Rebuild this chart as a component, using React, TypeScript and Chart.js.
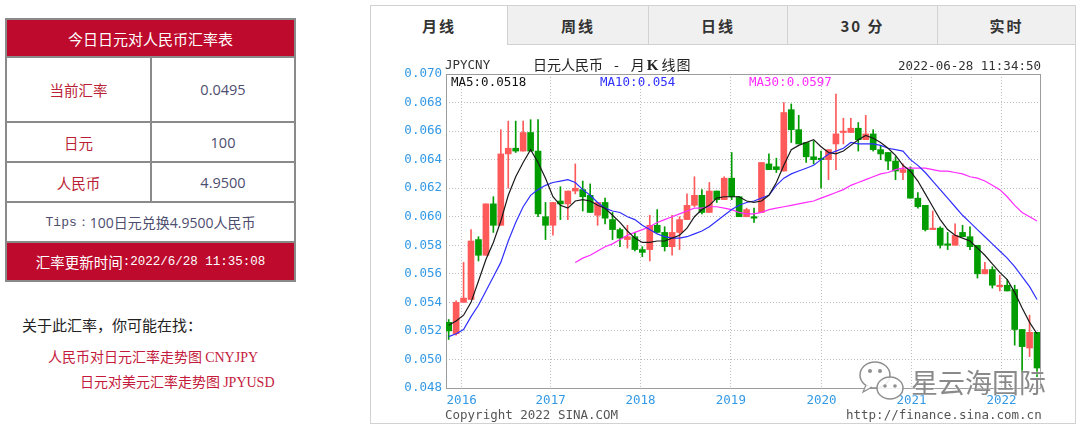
import React, { useEffect, useRef } from "react";
import { Chart, registerables } from "chart.js";

Chart.register(...registerables);

// Monthly candles, Nov 2015 .. Jun 2022 (index 0..79)
const opens = [
  0.0526, 0.0518, 0.0540, 0.0542, 0.0584, 0.0573, 0.0609, 0.0594, 0.0644, 0.0648,
  0.0646, 0.0659, 0.0646, 0.0600, 0.0594, 0.0611, 0.0609, 0.0618, 0.0619, 0.0615,
  0.0601, 0.0610, 0.0598, 0.0591, 0.0584, 0.0586, 0.0577, 0.0577, 0.0594, 0.0589,
  0.0579, 0.0589, 0.0598, 0.0608, 0.0615, 0.0603, 0.0618, 0.0612, 0.0627, 0.0614,
  0.0600, 0.0600, 0.0603, 0.0637, 0.0635, 0.0632, 0.0675, 0.0661, 0.0652, 0.0642,
  0.0641, 0.0640, 0.0651, 0.0659, 0.0659, 0.0662, 0.0654, 0.0658, 0.0647, 0.0645,
  0.0639, 0.0631, 0.0633, 0.0613, 0.0608, 0.0591, 0.0592, 0.0581, 0.0580, 0.0589,
  0.0586, 0.0580, 0.0560, 0.0563, 0.0551, 0.0552, 0.0549, 0.0521, 0.0508, 0.0519,
];
const highs = [
  0.0528, 0.0541, 0.0568, 0.0591, 0.0586, 0.0609, 0.0614, 0.0661, 0.0667, 0.0667,
  0.0667, 0.0668, 0.0668, 0.0610, 0.0610, 0.0621, 0.0618, 0.0637, 0.0625, 0.0623,
  0.0610, 0.0613, 0.0603, 0.0592, 0.0594, 0.0589, 0.0579, 0.0601, 0.0605, 0.0593,
  0.0601, 0.0600, 0.0616, 0.0628, 0.0619, 0.0624, 0.0618, 0.0628, 0.0645, 0.0614,
  0.0606, 0.0606, 0.0638, 0.0644, 0.0641, 0.0680, 0.0679, 0.0671, 0.0652, 0.0653,
  0.0646, 0.0647, 0.0686, 0.0669, 0.0669, 0.0666, 0.0671, 0.0661, 0.0650, 0.0645,
  0.0642, 0.0637, 0.0635, 0.0617, 0.0608, 0.0604, 0.0593, 0.0589, 0.0595, 0.0594,
  0.0593, 0.0580, 0.0568, 0.0565, 0.0559, 0.0556, 0.0552, 0.0521, 0.0531, 0.0519,
];
const lows = [
  0.0514, 0.0517, 0.0540, 0.0542, 0.0569, 0.0573, 0.0589, 0.0594, 0.0620, 0.0645,
  0.0646, 0.0646, 0.0600, 0.0584, 0.0587, 0.0598, 0.0598, 0.0616, 0.0604, 0.0603,
  0.0594, 0.0595, 0.0584, 0.0579, 0.0578, 0.0576, 0.0572, 0.0569, 0.0589, 0.0576,
  0.0573, 0.0577, 0.0598, 0.0607, 0.0602, 0.0603, 0.0610, 0.0612, 0.0612, 0.0600,
  0.0600, 0.0596, 0.0603, 0.0633, 0.0631, 0.0632, 0.0652, 0.0651, 0.0638, 0.0637,
  0.0620, 0.0626, 0.0633, 0.0651, 0.0659, 0.0646, 0.0654, 0.0646, 0.0640, 0.0633,
  0.0626, 0.0626, 0.0613, 0.0606, 0.0590, 0.0591, 0.0578, 0.0577, 0.0580, 0.0586,
  0.0577, 0.0557, 0.0560, 0.0550, 0.0548, 0.0548, 0.0510, 0.0491, 0.0502, 0.0488,
];
const closes = [
  0.0520, 0.0540, 0.0543, 0.0583, 0.0573, 0.0609, 0.0594, 0.0644, 0.0648, 0.0646,
  0.0659, 0.0646, 0.0602, 0.0594, 0.0610, 0.0609, 0.0618, 0.0620, 0.0614, 0.0603,
  0.0610, 0.0599, 0.0591, 0.0585, 0.0586, 0.0577, 0.0575, 0.0594, 0.0589, 0.0579,
  0.0589, 0.0598, 0.0608, 0.0615, 0.0603, 0.0618, 0.0612, 0.0627, 0.0614, 0.0600,
  0.0605, 0.0599, 0.0638, 0.0633, 0.0633, 0.0673, 0.0661, 0.0651, 0.0642, 0.0640,
  0.0640, 0.0647, 0.0658, 0.0660, 0.0662, 0.0654, 0.0658, 0.0647, 0.0644, 0.0639,
  0.0632, 0.0633, 0.0613, 0.0607, 0.0591, 0.0592, 0.0580, 0.0580, 0.0587, 0.0586,
  0.0579, 0.0560, 0.0563, 0.0552, 0.0552, 0.0548, 0.0521, 0.0509, 0.0519, 0.0494,
];

const ma5 = [
  0.0524, 0.0527, 0.0531, 0.0540, 0.0555, 0.0570, 0.0582, 0.0597, 0.0615, 0.0628,
  0.0638, 0.0647, 0.0638, 0.0627, 0.0614, 0.0608, 0.0606, 0.0611, 0.0612, 0.0611,
  0.0608, 0.0606, 0.0601, 0.0596, 0.0590, 0.0585, 0.0582, 0.0582, 0.0583, 0.0583,
  0.0585, 0.0587, 0.0592, 0.0600, 0.0605, 0.0608, 0.0613, 0.0614, 0.0614, 0.0614,
  0.0611, 0.0610, 0.0611, 0.0615, 0.0624, 0.0636, 0.0647, 0.0650, 0.0652, 0.0654,
  0.0649, 0.0645, 0.0644, 0.0646, 0.0650, 0.0654, 0.0657, 0.0655, 0.0652, 0.0648,
  0.0643, 0.0636, 0.0632, 0.0625, 0.0616, 0.0607, 0.0598, 0.0591, 0.0587, 0.0585,
  0.0583, 0.0578, 0.0573, 0.0567, 0.0561, 0.0556, 0.0547, 0.0536, 0.0526, 0.0518,
];
const ma10 = [
  0.0516, 0.0518, 0.0521, 0.0530, 0.0538, 0.0548, 0.0558, 0.0568, 0.0583, 0.0596,
  0.0607, 0.0615, 0.0619, 0.0622, 0.0624, 0.0625, 0.0626, 0.0624, 0.0619, 0.0615,
  0.0610, 0.0606, 0.0604, 0.0603, 0.0600, 0.0598, 0.0594, 0.0591, 0.0588, 0.0586,
  0.0585, 0.0585, 0.0586, 0.0588, 0.0590, 0.0593, 0.0597, 0.0601, 0.0605, 0.0608,
  0.0610, 0.0611, 0.0613, 0.0615, 0.0622, 0.0627, 0.0630, 0.0632, 0.0634, 0.0636,
  0.0640, 0.0644, 0.0646, 0.0648, 0.0652, 0.0651, 0.0651, 0.0651, 0.0650, 0.0648,
  0.0647, 0.0646, 0.0640, 0.0636, 0.0631, 0.0625, 0.0619, 0.0613, 0.0607, 0.0601,
  0.0596, 0.0591, 0.0586, 0.0581, 0.0576, 0.0571, 0.0565, 0.0558, 0.0551, 0.0542,
];
const ma30 = [
  null, null, null, null, null, null, null, null, null, null,
  null, null, null, null, null, null, null, 0.0568, 0.0571, 0.0573,
  0.0576, 0.0579, 0.0581, 0.0584, 0.0587, 0.0589, 0.0591, 0.0593, 0.0596, 0.0598,
  0.0600, 0.0602, 0.0604, 0.0606, 0.0606, 0.0607, 0.0607, 0.0606, 0.0605, 0.0603,
  0.0602, 0.0602, 0.0603, 0.0605, 0.0606, 0.0607, 0.0608, 0.0609, 0.0610, 0.0611,
  0.0613, 0.0615, 0.0617, 0.0619, 0.0622, 0.0624, 0.0626, 0.0628, 0.0630, 0.0631,
  0.0633, 0.0634, 0.0634, 0.0634, 0.0634, 0.0633, 0.0632, 0.0632, 0.0631, 0.0630,
  0.0628, 0.0627, 0.0625, 0.0622, 0.0619, 0.0614, 0.0608, 0.0603, 0.0600, 0.0597,
];

const yTicks = [0.048, 0.05, 0.052, 0.054, 0.056, 0.058, 0.06, 0.062, 0.064, 0.066, 0.068, 0.07];
const yearLabels = ["2016", "2017", "2018", "2019", "2020", "2021", "2022"];
// candle-index value where each year's grid line falls
const yearTickIndex = [1.74, 13.69, 25.77, 37.89, 50.07, 62.15, 74.23];

const RED = "#ff5a5a";
const GREEN = "#009c00";
const MONO = '"DejaVu Sans Mono", "Liberation Mono", monospace';
const CJK = '"Noto Sans CJK SC", "Noto Sans", sans-serif';

const framePlugin = {
  id: "frame",
  beforeDatasetsDraw(chart: any) {
    const { ctx, chartArea: a } = chart;
    ctx.save();
    ctx.strokeStyle = "#9c9c9c";
    ctx.lineWidth = 1;
    ctx.setLineDash([]);
    ctx.strokeRect(
      Math.round(a.left) + 0.5,
      Math.round(a.top) + 0.5,
      Math.round(a.right - a.left),
      Math.round(a.bottom - a.top)
    );
    ctx.restore();
  },
};

function KChart() {
  const ref = useRef<HTMLCanvasElement>(null);
  useEffect(() => {
    const idx = closes.map((_, i) => i);
    const colors = idx.map((i) => (closes[i] >= opens[i] ? RED : GREEN));
    const bodyData = idx.map((i) => ({ x: i, y: [opens[i], closes[i]] }));
    const wickData = idx.map((i) => ({ x: i, y: [lows[i], highs[i]] }));
    const toLine = (arr: (number | null)[]) =>
      arr.map((v, i) => ({ x: i, y: v })).filter((p) => p.y !== null);
    const gridColor = "#bdbdbd";
    const chart = new Chart(ref.current as HTMLCanvasElement, {
      type: "bar",
      data: {
        datasets: [
          {
            type: "bar",
            data: wickData as any,
            backgroundColor: colors,
            barThickness: 1,
            grouped: false,
            order: 4,
          } as any,
          {
            type: "bar",
            data: bodyData as any,
            backgroundColor: colors,
            barThickness: 6,
            minBarLength: 1,
            grouped: false,
            order: 3,
          } as any,
          {
            type: "line",
            data: toLine(ma30) as any,
            borderColor: "#ff2bff",
            borderWidth: 1.2,
            pointRadius: 0,
            tension: 0,
            order: 2,
          },
          {
            type: "line",
            data: toLine(ma10) as any,
            borderColor: "#2f2fff",
            borderWidth: 1.2,
            pointRadius: 0,
            tension: 0,
            order: 1,
          },
          {
            type: "line",
            data: toLine(ma5) as any,
            borderColor: "#1a1a1a",
            borderWidth: 1.2,
            pointRadius: 0,
            tension: 0,
            order: 0,
          },
        ],
      },
      options: {
        responsive: false,
        animation: false,
        devicePixelRatio: 1,
        layout: { padding: { left: 0, right: 36, top: 28, bottom: 0 } },
        plugins: { legend: { display: false }, tooltip: { enabled: false } },
        scales: {
          x: {
            type: "linear",
            min: -0.36,
            max: 79.4,
            offset: false,
            afterBuildTicks: (s: any) => {
              s.ticks = yearTickIndex.map((v) => ({ value: v }));
            },
            afterFit: (s: any) => {
              s.height = 36;
            },
            grid: { color: gridColor, drawTicks: false, offset: false, lineWidth: 1 },
            border: { display: false, dash: [1, 2] },
            ticks: {
              color: "#3399e6",
              font: { family: MONO, size: 12.5 },
              padding: 5,
              autoSkip: false,
              maxRotation: 0,
              callback: (_v: any, i: number) => yearLabels[i],
            },
          },
          y: {
            type: "linear",
            min: 0.048,
            max: 0.07,
            afterBuildTicks: (s: any) => {
              s.ticks = yTicks.map((v) => ({ value: v }));
            },
            afterFit: (s: any) => {
              s.width = 76;
            },
            grid: { color: gridColor, drawTicks: false, lineWidth: 1 },
            border: { display: false, dash: [1, 2] },
            ticks: {
              color: "#3399e6",
              font: { family: MONO, size: 12.5 },
              padding: 4,
              callback: (v: any) => Number(v).toFixed(3),
            },
          },
        },
      } as any,
      plugins: [framePlugin],
    });
    return () => chart.destroy();
  }, []);
  return (
    <canvas
      ref={ref}
      width={706}
      height={378}
      style={{ position: "absolute", left: 370, top: 46, width: 706, height: 378 }}
    />
  );
}

const abs = (l: number, t: number, extra: any = {}) => ({ position: "absolute" as const, left: l, top: t, ...extra });

function Cell({ l, t, w, h, children, style }: any) {
  return (
    <div
      style={{
        position: "absolute",
        left: l,
        top: t,
        width: w,
        height: h,
        display: "flex",
        alignItems: "center",
        justifyContent: "center",
        whiteSpace: "nowrap",
        ...style,
      }}
    >
      {children}
    </div>
  );
}

export default function App() {
  const border = "#8a8a8a";
  const crimson = "#be0a2c";
  const labelRed = "#bb1f35";
  const valueCol = "#4e4e6e";
  const tabs = [
    { t: "月线", l: 370, r: 508 },
    { t: "周线", l: 508, r: 649 },
    { t: "日线", l: 649, r: 788 },
    { t: "30 分", l: 788, r: 938 },
    { t: "实时", l: 938, r: 1076 },
  ];
  return (
    <div
      style={{
        position: "fixed",
        left: 0,
        top: 0,
        width: 1080,
        height: 431,
        background: "#fff",
        overflow: "hidden",
        fontFamily: CJK,
      }}
    >
      {/* Left table */}
      <div style={abs(5, 18, { width: 291, height: 264, border: `2px solid ${border}`, boxSizing: "border-box", background: "#fff" })} />
      <Cell l={7} t={20} w={287} h={36} style={{ background: crimson, color: "#fff", fontSize: 15 }}>
        今日日元对人民币汇率表
      </Cell>
      <div style={abs(7, 56, { width: 287, height: 2, background: border })} />
      <Cell l={7} t={58} w={143} h={63} style={{ color: labelRed, fontSize: 14.5 }}>当前汇率</Cell>
      <Cell l={152} t={58} w={142} h={63} style={{ color: valueCol, fontSize: 14.5, fontFamily: '"Open Sans", sans-serif' }}>0.0495</Cell>
      <div style={abs(7, 121, { width: 287, height: 2, background: border })} />
      <Cell l={7} t={123} w={143} h={38} style={{ color: labelRed, fontSize: 14.5 }}>日元</Cell>
      <Cell l={152} t={123} w={142} h={38} style={{ color: valueCol, fontSize: 14.5, fontFamily: '"Open Sans", sans-serif' }}>100</Cell>
      <div style={abs(7, 161, { width: 287, height: 2, background: border })} />
      <Cell l={7} t={163} w={143} h={38} style={{ color: labelRed, fontSize: 14.5 }}>人民币</Cell>
      <Cell l={152} t={163} w={142} h={38} style={{ color: valueCol, fontSize: 14.5, fontFamily: '"Open Sans", sans-serif' }}>4.9500</Cell>
      <div style={abs(150, 58, { width: 2, height: 143, background: border })} />
      <div style={abs(7, 201, { width: 287, height: 2, background: border })} />
      <Cell l={7} t={203} w={287} h={38} style={{ color: valueCol, fontSize: 14 }}>
        <span style={{ fontFamily: '"Liberation Mono", monospace', fontSize: 13 }}>Tips：</span>
        <span style={{ fontFamily: '"Open Sans", "Noto Sans CJK SC", sans-serif' }}>100日元兑换4.9500人民币</span>
      </Cell>
      <div style={abs(7, 241, { width: 287, height: 2, background: border })} />
      <Cell l={7} t={243} w={287} h={37} style={{ background: crimson, color: "#fff", fontSize: 14.5 }}>
        <span>汇率更新时间</span>
        <span style={{ fontFamily: '"Liberation Mono", monospace', fontSize: 12.5 }}>:2022/6/28 11:35:08</span>
      </Cell>

      {/* Related links */}
      <div style={abs(22, 315, { fontSize: 15, color: "#222", whiteSpace: "nowrap", lineHeight: "20px" })}>关于此汇率，你可能在找：</div>
      <div style={abs(48, 346, { fontSize: 14, color: "#c41a3c", whiteSpace: "nowrap", lineHeight: "20px" })}>
        人民币对日元汇率走势图 <span style={{ fontFamily: '"Liberation Serif", serif', fontSize: 14 }}>CNYJPY</span>
      </div>
      <div style={abs(80, 371, { fontSize: 14, color: "#c41a3c", whiteSpace: "nowrap", lineHeight: "20px" })}>
        日元对美元汇率走势图 <span style={{ fontFamily: '"Liberation Serif", serif', fontSize: 14 }}>JPYUSD</span>
      </div>

      {/* Right panel */}
      <div style={abs(370, 5, { width: 706, height: 419, border: "1px solid #d2d2d2", boxSizing: "border-box" })} />
      {tabs.map((tb, i) => (
        <Cell
          key={i}
          l={tb.l}
          t={5}
          w={tb.r - tb.l}
          h={40}
          style={{
            background: i === 0 ? "#fff" : "#f0f0f0",
            borderTop: "1px solid #d2d2d2",
            borderLeft: i === 0 ? "1px solid #d2d2d2" : "none",
            borderRight: "1px solid #d2d2d2",
            borderBottom: i === 0 ? "none" : "1px solid #d2d2d2",
            boxSizing: "border-box",
            fontSize: 15,
            fontWeight: 700,
            color: "#333",
            letterSpacing: 2,
          }}
        >
          {tb.t}
        </Cell>
      ))}

      <KChart />

      {/* chart header texts */}
      <div style={abs(445, 57, { fontFamily: MONO, fontSize: 12.5, color: "#333", lineHeight: "16px" })}>JPYCNY</div>
      <div style={abs(533, 55, { fontSize: 14, color: "#222", lineHeight: "18px", whiteSpace: "nowrap" })}>
        <span>日元人民币</span>
        <span style={{ marginLeft: 11 }}>-</span>
        <span style={{ marginLeft: 12 }}>月</span>
        <b style={{ fontFamily: '"Liberation Serif", serif', margin: "0 3px 0 2px", fontSize: 15 }}>K</b>
        <span style={{ letterSpacing: 1 }}>线图</span>
      </div>
      <div style={abs(898, 58, { fontFamily: MONO, fontSize: 12.5, color: "#333", lineHeight: "16px", whiteSpace: "nowrap" })}>
        2022-06-28 11:34:50
      </div>
      <div style={abs(451, 74, { fontFamily: MONO, fontSize: 12.5, color: "#111", lineHeight: "16px" })}>MA5:0.0518</div>
      <div style={abs(600, 74, { fontFamily: MONO, fontSize: 12.5, color: "#2f2fff", lineHeight: "16px" })}>MA10:0.054</div>
      <div style={abs(749, 74, { fontFamily: MONO, fontSize: 12.5, color: "#ff2bff", lineHeight: "16px" })}>MA30:0.0597</div>
      <div style={abs(445, 407, { fontFamily: MONO, fontSize: 12.5, color: "#555", lineHeight: "16px", whiteSpace: "nowrap" })}>
        Copyright 2022 SINA.COM
      </div>
      <div style={abs(846, 407, { fontFamily: MONO, fontSize: 12.5, color: "#555", lineHeight: "16px", whiteSpace: "nowrap" })}>
        http://finance.sina.com.cn
      </div>

      {/* watermark */}
      <svg style={abs(857, 358)} width={50} height={48}>
        <ellipse cx={18} cy={17} rx={15} ry={13} fill="#fff" fillOpacity={0.85} stroke="#8f8f8f" strokeWidth={1.5} />
        <path d="M9 27 L6 34 L15 29" fill="#fff" stroke="#8f8f8f" strokeWidth={1.2} />
        <circle cx={13} cy={13} r={2} fill="#8f8f8f" />
        <circle cx={23} cy={13} r={2} fill="#8f8f8f" />
        <ellipse cx={33} cy={30} rx={13} ry={11} fill="#fff" fillOpacity={0.85} stroke="#8f8f8f" strokeWidth={1.5} />
        <circle cx={28} cy={28} r={1.8} fill="#8f8f8f" />
        <circle cx={38} cy={28} r={1.8} fill="#8f8f8f" />
      </svg>
      <div style={abs(911, 364, { fontSize: 27, color: "#8a8a8a", lineHeight: "36px", whiteSpace: "nowrap", textShadow: "0 0 2px #fff" })}>
        星云海国际
      </div>
    </div>
  );
}
